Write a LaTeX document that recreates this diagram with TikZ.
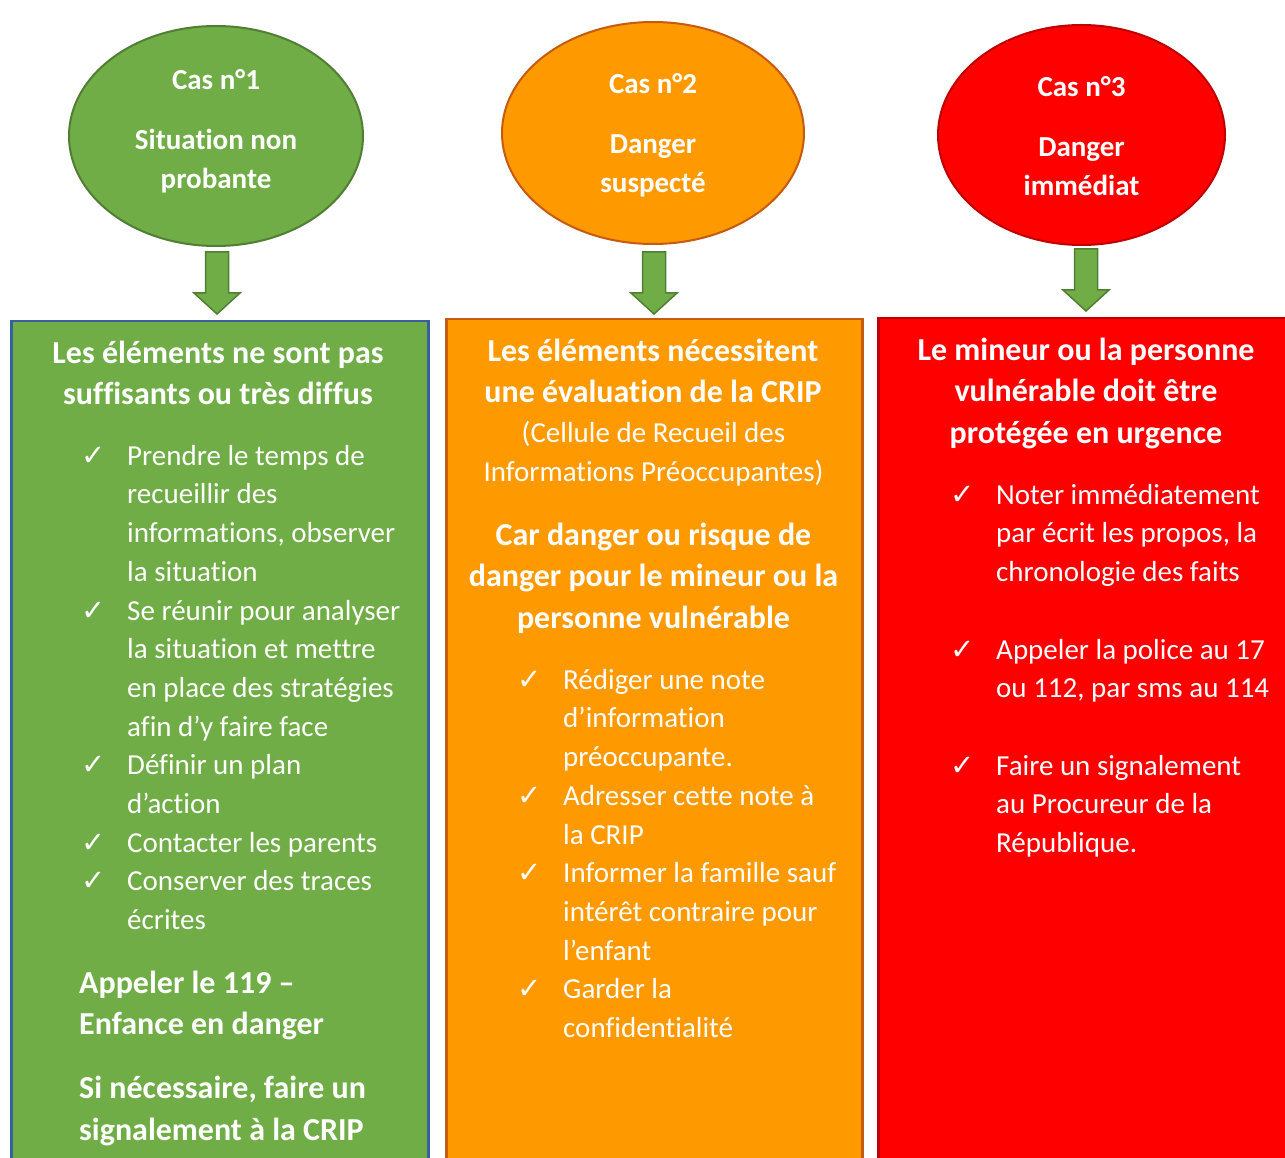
\documentclass[tikz,border=0pt]{standalone}
\usepackage{fontspec}
\setmainfont{Carlito}[Ligatures=NoCommon]
\newfontfamily\symfont{DejaVu Sans}
\usepackage{tikz}
\usetikzlibrary{shapes,arrows,calc}
\definecolor{casgreen}{RGB}{112,173,71}
\definecolor{casgreendark}{RGB}{80,126,50}
\definecolor{casblue}{RGB}{58,95,158}
\definecolor{casorange}{RGB}{255,153,0}
\definecolor{casorangedark}{RGB}{197,90,17}
\definecolor{casred}{RGB}{255,0,0}
\definecolor{casreddark}{RGB}{192,0,0}
\tikzstyle{cas} =
  [ellipse, draw, line width=2pt, inner sep=0pt, text=white,
   font=\bfseries\fontsize{29}{39}\selectfont]
\tikzstyle{down} =
  [draw=casgreendark, fill=casgreen, line width=1.5pt, line join=miter]
\tikzstyle{panel} =
  [rectangle, draw, line width=2.5pt, anchor=north west, inner sep=0pt]
\tikzstyle{title} =
  [anchor=north, inner sep=0pt, text=white,
   font=\bfseries\fontsize{32}{41.5}\selectfont]
\tikzstyle{plain} =
  [anchor=north, inner sep=0pt, text=white, font=\fontsize{29}{39}\selectfont]
\tikzstyle{list} =
  [anchor=north west, inner sep=0pt, text=white,
   font=\fontsize{29}{38.7}\selectfont]
\newcommand{\coche}{{\symfont\fontsize{29}{29}\selectfont ✓}}

\begin{document}
\begin{tikzpicture}[x=1pt, y=1pt]
  \useasboundingbox (0,0) rectangle (1285,-1158);

  \node [panel, fill=casgreen, draw=casblue,
         minimum width=417pt, minimum height=900pt] (b1) at (10,-320) {};
  \node [panel, fill=casorange, draw=casorangedark,
         minimum width=416pt, minimum height=900pt] (b2) at (445,-318) {};
  \node [panel, fill=casred, draw=casreddark,
         minimum width=500pt, minimum height=900pt] (b3) at (877,-317) {};

  \node [cas, fill=casgreen, draw=casgreendark,
         minimum width=294pt, minimum height=220pt] (c1) at (216,-136)
        {\begin{tabular}{@{}c@{}}Cas n°1\\[21pt]Situation non\\probante\\[9pt]\end{tabular}};
  \node [cas, fill=casorange, draw=casorangedark,
         minimum width=302pt, minimum height=222pt] (c2) at (653,-133)
        {\begin{tabular}{@{}c@{}}\rule{0pt}{31.3pt}Cas n°2\\[21pt]Danger\\suspecté\end{tabular}};
  \node [cas, fill=casred, draw=casreddark,
         minimum width=287pt, minimum height=220pt] (c3) at (1081.5,-135)
        {\begin{tabular}{@{}c@{}}\rule{0pt}{34.3pt}Cas n°3\\[21pt]Danger\\immédiat\end{tabular}};

  \draw [down] ($(c1.south)+(-10.5,-5)$) -- ++(23,0) -- ++(0,-41)
    -- ++(11.5,0) -- ++(-23,-21) -- ++(-23,21) -- ++(11.5,0) -- cycle;
  \draw [down] ($(c2.south)+(-10.5,-7)$) -- ++(23,0) -- ++(0,-41)
    -- ++(11.5,0) -- ++(-23,-21) -- ++(-23,21) -- ++(11.5,0) -- cycle;
  \draw [down] ($(c3.south)+(-7,-3)$) -- ++(23,0) -- ++(0,-41)
    -- ++(11.5,0) -- ++(-23,-21) -- ++(-23,21) -- ++(11.5,0) -- cycle;

  \node [title] (t1) at (218,-334)
        {\begin{tabular}{@{}c@{}}Les éléments ne sont pas\\suffisants ou très diffus\end{tabular}};
  \node [list] (l1) at (81,-438) {\begin{tabular}{@{}p{46pt}@{}l@{}}
    \coche & Prendre le temps de\\
           & recueillir des\\
           & informations, observer\\
           & la situation\\
    \coche & Se réunir pour analyser\\
           & la situation et mettre\\
           & en place des stratégies\\
           & afin d’y faire face\\
    \coche & Définir un plan\\
           & d’action\\
    \coche & Contacter les parents\\
    \coche & Conserver des traces\\
           & écrites
  \end{tabular}};
  \node [title, anchor=north west] (n1) at (79,-964)
        {\begin{tabular}{@{}l@{}}Appeler le 119 –\\Enfance en danger\\[22.5pt]
         Si nécessaire, faire un\\signalement à la CRIP\end{tabular}};

  \node [title] (t2) at (653,-332)
        {\begin{tabular}{@{}c@{}}Les éléments nécessitent\\une évaluation de la CRIP\end{tabular}};
  \node [plain] (p2) at (653.5,-415)
        {\begin{tabular}{@{}c@{}}(Cellule de Recueil des\\Informations Préoccupantes)\end{tabular}};
  \node [title] (d2) at (653.5,-516)
        {\begin{tabular}{@{}c@{}}Car danger ou risque de\\danger pour le mineur ou la\\personne vulnérable\end{tabular}};
  \node [list] (l2) at (517,-662) {\begin{tabular}{@{}p{46pt}@{}l@{}}
    \coche & Rédiger une note\\
           & d’information\\
           & préoccupante.\\
    \coche & Adresser cette note à\\
           & la CRIP\\
    \coche & Informer la famille sauf\\
           & intérêt contraire pour\\
           & l’enfant\\
    \coche & Garder la\\
           & confidentialité
  \end{tabular}};

  \node [title] (t3) at (1086,-331)
        {\begin{tabular}{@{}c@{}}Le mineur ou la personne\\vulnérable doit être\\protégée en urgence\end{tabular}};
  \node [list] (l3) at (950,-477) {\begin{tabular}{@{}p{46pt}@{}l@{}}
    \coche & Noter immédiatement\\
           & par écrit les propos, la\\
           & chronologie des faits\\
           & \\
    \coche & Appeler la police au 17\\
           & ou 112, par sms au 114\\
           & \\
    \coche & Faire un signalement\\
           & au Procureur de la\\
           & République.
  \end{tabular}};
\end{tikzpicture}
\end{document}
